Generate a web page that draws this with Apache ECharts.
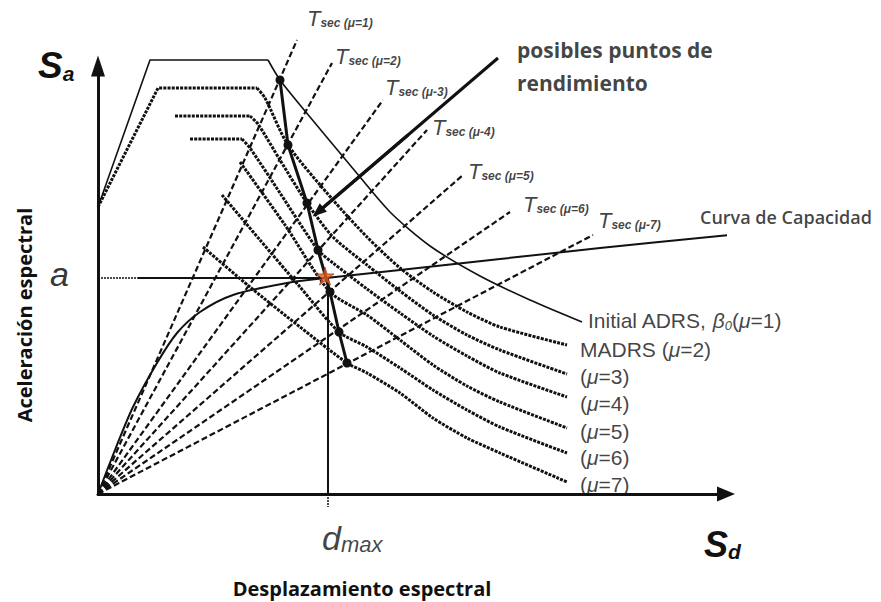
<!DOCTYPE html>
<html>
<head>
<meta charset="utf-8">
<script src="https://cdn.jsdelivr.net/npm/echarts@6/dist/echarts.min.js"></script>
<style>
  html, body { margin: 0; padding: 0; background: #fff; }
  #main { width: 881px; height: 602px; }
</style>
</head>
<body>
<div id="main"></div>
<script>
// curvas ADRS [Sd, Sa] (unidades arbitrarias)
const adrs1 = [[0,287],[52,434],[170,434],[182,414],[207,383],[252,329],[292,282],[332,248],[382,218],[432,194],[484,172]];
const adrs2 = [[0,287],[60,406],[159,406],[167,396],[190,349],[235,294],[269,257],[302,226],[335,202],[369,182],[402,167],[469,149]];
const adrs3 = [[77,378],[152,378],[160,370],[182,334],[209,291],[235,257],[269,229],[302,203],[335,179],[369,159],[402,144],[469,120]];
const adrs4 = [[92,355],[144,355],[152,346],[182,301],[220,244],[235,231],[269,205],[302,181],[335,158],[369,138],[402,121],[469,97]];
const adrs5 = [[142,332],[187,269],[232,202],[269,179],[302,154],[335,129],[369,108],[402,92],[469,66]];
const adrs6 = [[124,299],[162,254],[202,207],[241,162],[269,147],[302,126],[335,104],[369,84],[402,67],[469,41]];
const adrs7 = [[105,247],[152,207],[202,167],[249,131],[269,121],[302,101],[335,76],[369,56],[402,41],[469,12]];
// cuantos puntos de cada curva forman el tramo recto (subida + meseta)
const plateauEnd = [2, 2, 1, 1, 0, 0, 0];

// curva de capacidad
const capacity = [[0,0],[17,44],[35,87],[59,131],[79,161],[102,182],[135,199],[189,211],[228,216],[302,224],[402,235],[502,246],[632,259]];

// extremos de las rectas T_sec (todas salen del origen)
const tsecEnds = [[199,454],[234,431],[285,394],[329,364],[365,319],[412,282],[495,259]];
const tsecNames = ['(μ=1)','(μ=2)','(μ-3)','(μ-4)','(μ=5)','(μ=6)','(μ-7)'];

// posibles puntos de rendimiento
const yieldPts = [[182,414],[190,349],[209,291],[220,244],[232,202],[241,162],[249,131]];
const perfPoint = [227,218];
const aLevel = 216;
const dMax = 230;
const arrowFrom = [400,436];
const arrowMid = [310,359];
const arrowTo = [220,282];

const rightNames = ['MADRS ({i|μ}=2)','({i|μ}=3)','({i|μ}=4)','({i|μ}=5)','({i|μ}=6)','({i|μ}=7)'];

// posiciones de los textos (en unidades del grafico)
const tsecLabelPos = [[209,477],[237,439],[287,408],[334,368],[370,324],[425,291],[500,275]];
const rightLabelPos = [[482,145],[482,118],[482,91],[482,63],[482,37],[482,10]];

const ink = '#111';
const chart = echarts.init(document.getElementById('main'), null, { renderer: 'svg' });

function curve(data, style, smooth) {
  return {
    type: 'line', data: data, symbol: 'none', showSymbol: false,
    smooth: smooth || false, clip: false, silent: true, z: 2,
    lineStyle: Object.assign({ color: ink }, style)
  };
}

const dotted = { width: 3, type: [3, 1.2] };
const dashed = { width: 2.2, type: [6, 3] };

const series = [];
[adrs1, adrs2, adrs3, adrs4, adrs5, adrs6, adrs7].forEach(function (c, k) {
  const style = k === 0 ? { width: 1.6 } : dotted;
  const e = plateauEnd[k];
  if (e > 0) series.push(curve(c.slice(0, e + 1), style));
  series.push(curve(c.slice(e), style, 0.25));
});
series.push(curve(capacity, { width: 2 }, 0.3));

tsecEnds.forEach(function (p) {
  series.push(curve([[0, 0], p], dashed));
});

// lineas de a y d_max
series.push(curve([[-15, aLevel], [40, aLevel]], { width: 1.5, type: [2, 1] }));
series.push(curve([[40, aLevel], [dMax, aLevel]], { width: 2 }));
series.push(curve([[dMax, aLevel], [dMax, 0]], { width: 2 }));
series.push(curve([[dMax, 0], [dMax, -13]], { width: 1.5, type: [2, 1] }));

// flecha hacia los puntos de rendimiento
series.push(Object.assign(curve([arrowFrom, arrowTo], { width: 3 }), {
  z: 4,
  markLine: {
    silent: true, animation: false,
    symbol: ['none', 'triangle'], symbolSize: [11, 14],
    lineStyle: { color: ink, width: 3, type: 'solid' },
    label: { show: false },
    data: [[{ coord: arrowMid }, { coord: arrowTo }]]
  }
}));

// linea de puntos de rendimiento
series.push({
  type: 'line', data: yieldPts, clip: false, silent: true, z: 4,
  symbol: 'circle', symbolSize: 9, showSymbol: true,
  itemStyle: { color: ink }, lineStyle: { color: ink, width: 3 }
});

// punto de desempeño
series.push({
  type: 'scatter', data: [perfPoint], clip: false, silent: true, z: 6,
  symbol: 'path://M50,0 L61,35 L98,35 L68,57 L79,91 L50,70 L21,91 L32,57 L2,35 L39,35 Z',
  symbolSize: 18,
  itemStyle: { color: '#e85a1e', borderColor: '#7a2a0a', borderWidth: 0.8 }
});

const RICH = {
  t: { fontFamily: 'Liberation Sans', fontStyle: 'italic', fontSize: 22, lineHeight: 24, verticalAlign: 'bottom', color: ink },
  s: { fontFamily: 'Liberation Sans', fontStyle: 'italic', fontWeight: 'bold', fontSize: 12, lineHeight: 8, verticalAlign: 'bottom', color: ink },
  n: { fontFamily: 'Liberation Sans', fontSize: 21, lineHeight: 24, color: ink },
  i: { fontFamily: 'Liberation Sans', fontStyle: 'italic', fontSize: 21, lineHeight: 24, color: ink },
  z: { fontFamily: 'Liberation Sans', fontStyle: 'italic', fontSize: 13, lineHeight: 11, verticalAlign: 'bottom', color: ink },
  big: { fontFamily: 'Liberation Sans', fontStyle: 'italic', fontSize: 34, lineHeight: 36, verticalAlign: 'bottom', color: ink },
  mx: { fontFamily: 'Liberation Sans', fontStyle: 'italic', fontSize: 22, lineHeight: 12, verticalAlign: 'bottom', color: ink }
};

const labelData = [];
tsecNames.forEach(function (n, i) {
  labelData.push({ value: tsecLabelPos[i], label: { formatter: '{t|T}{s|sec ' + n + '}' } });
});
labelData.push({ value: [490, 174], label: { formatter: '{n|Initial ADRS, }{i|β}{z|0}{n|(}{i|μ}{n|=1)}' } });
rightNames.forEach(function (n, i) {
  labelData.push({ value: rightLabelPos[i], label: { formatter: n } });
});
labelData.push({ value: [602, 277], label: { formatter: 'Curva de Capacidad', fontFamily: 'Open Sans', fontWeight: 600, fontSize: 18 } });
labelData.push({ value: [419, 444], label: { formatter: 'posibles puntos de', fontFamily: 'Open Sans', fontWeight: 700, fontSize: 21 } });
labelData.push({ value: [419, 411], label: { formatter: 'rendimiento', fontFamily: 'Open Sans', fontWeight: 700, fontSize: 21 } });
labelData.push({ value: [-48, 220], label: { formatter: 'a', fontStyle: 'italic', fontSize: 34, color: '#000' } });
labelData.push({ value: [dMax - 6, -43], label: { formatter: '{big|d}{mx|max}' } });

series.push({
  type: 'scatter', symbolSize: 0, clip: false, silent: true, z: 7,
  data: labelData,
  label: {
    show: true, position: [0, 0], align: 'left', verticalAlign: 'middle',
    color: ink, fontFamily: 'Liberation Sans', fontSize: 21, rich: RICH
  }
});

chart.setOption({
  animation: false,
  backgroundColor: '#fff',
  grid: { left: 98, top: 66, width: 628, height: 428 },
  xAxis: {
    type: 'value', min: 0, max: 628,
    axisLine: { show: true, lineStyle: { color: ink, width: 3 }, symbol: ['none', 'triangle'], symbolSize: [15, 18] },
    axisTick: { show: false }, axisLabel: { show: false }, splitLine: { show: false }
  },
  yAxis: {
    type: 'value', min: 0, max: 428,
    axisLine: { show: true, lineStyle: { color: ink, width: 3 }, symbol: ['none', 'triangle'], symbolSize: [14, 21] },
    axisTick: { show: false }, axisLabel: { show: false }, splitLine: { show: false }
  },
  graphic: [
    {
      type: 'text', x: 38, y: 64,
      style: {
        text: '{S|S}{a|a}', align: 'left', verticalAlign: 'middle',
        rich: {
          S: { fontFamily: 'Liberation Sans', fontWeight: 'bold', fontStyle: 'italic', fontSize: 37, lineHeight: 40, verticalAlign: 'bottom', fill: ink },
          a: { fontFamily: 'Liberation Sans', fontWeight: 'bold', fontStyle: 'italic', fontSize: 21, lineHeight: 12, verticalAlign: 'bottom', fill: ink }
        }
      }
    },
    {
      type: 'text', x: 704, y: 542,
      style: {
        text: '{S|S}{d|d}', align: 'left', verticalAlign: 'middle',
        rich: {
          S: { fontFamily: 'Liberation Sans', fontWeight: 'bold', fontStyle: 'italic', fontSize: 36, lineHeight: 40, verticalAlign: 'bottom', fill: ink },
          d: { fontFamily: 'Liberation Sans', fontWeight: 'bold', fontStyle: 'italic', fontSize: 21, lineHeight: 6, verticalAlign: 'bottom', fill: ink }
        }
      }
    },
    {
      type: 'text', x: 24, y: 315, rotation: Math.PI / 2,
      style: { text: 'Aceleración espectral', align: 'center', verticalAlign: 'middle', font: '700 20px "Open Sans"', fill: ink }
    },
    {
      type: 'text', x: 362, y: 588,
      style: { text: 'Desplazamiento espectral', align: 'center', verticalAlign: 'middle', font: '700 20px "Open Sans"', fill: ink }
    }
  ],
  series: series
});
</script>
</body>
</html>
